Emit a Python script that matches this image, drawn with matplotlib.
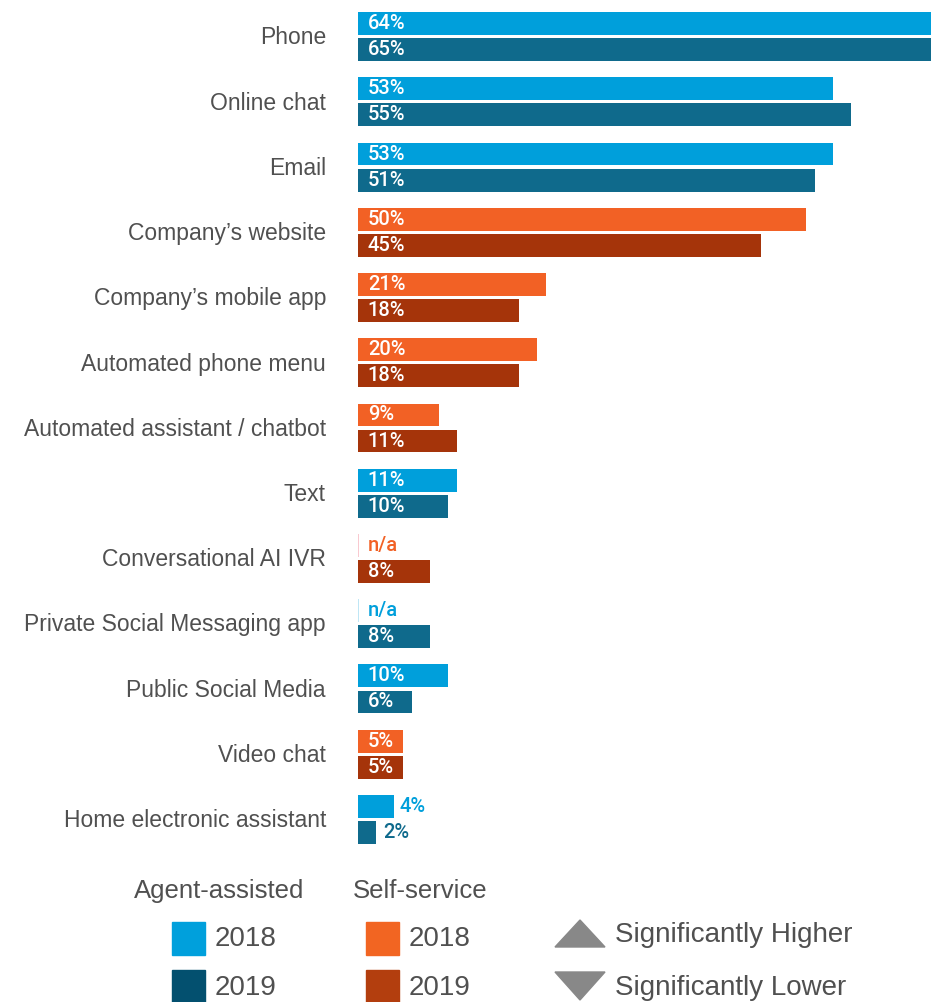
import matplotlib.pyplot as plt
from matplotlib.patches import Rectangle, Polygon

plt.rcParams['font.family'] = ['Liberation Sans', 'DejaVu Sans']

# ---------- data ----------
channels = [
    "Phone", "Online chat", "Email", "Company\u2019s website",
    "Company\u2019s mobile app", "Automated phone menu",
    "Automated assistant / chatbot", "Text", "Conversational AI IVR",
    "Private Social Messaging app", "Public Social Media", "Video chat",
    "Home electronic assistant",
]
# "agent" = agent-assisted, "self" = self-service
channel_type = ["agent", "agent", "agent", "self", "self", "self", "self",
                "agent", "self", "agent", "agent", "self", "agent"]
share_2018 = [64, 53, 53, 50, 21, 20, 9, 11, None, None, 10, 5, 4]
share_2019 = [65, 55, 51, 45, 18, 18, 11, 10, 8, 8, 6, 5, 2]

# ---------- styles ----------
colors = {
    "agent": ("#009FDB", "#0F6A8C"),
    "self": ("#F26125", "#A5340A"),
}
na_line = {"agent": "#BFE6F5", "self": "#F9C9D0"}
legend_colors = {
    "agent": ("#00A0DC", "#03506F"),
    "self": ("#F26522", "#B33E0E"),
}
label_grey = "#505050"
value_font = dict(family=["Roboto", "Liberation Sans"], fontweight="medium",
                  fontsize=14.5, va="center", ha="left")

fig = plt.figure(figsize=(9.31, 10.02), dpi=100)

# bar area: left edge at x=358px, runs off the right side of the figure
ax = fig.add_axes([358 / 931, 1 - 852 / 1002, 573 / 931, 848 / 1002])
ax.set_xlim(0, 573 / 8.96)
ax.set_ylim(len(channels) - 0.5, -0.5)
ax.axis("off")

bar_h = 0.35
off = 0.2
for i, (name, kind, v18, v19) in enumerate(zip(channels, channel_type, share_2018, share_2019)):
    c18, c19 = colors[kind]
    # 2018 bar
    if v18 is None:
        ax.barh(i - off, 0.12, height=bar_h, color=na_line[kind], left=0)
        ax.text(1.1, i - off, "n/a", color=c18, **value_font)
    else:
        ax.barh(i - off, v18, height=bar_h, color=c18)
        if v18 >= 5:
            ax.text(1.1, i - off, f"{v18}%", color="white", **value_font)
        else:
            ax.text(v18 + 0.6, i - off, f"{v18}%", color=c18, **value_font)
    # 2019 bar
    ax.barh(i + off, v19, height=bar_h, color=c19)
    if v19 >= 5:
        ax.text(1.1, i + off, f"{v19}%", color="white", **value_font)
    else:
        ax.text(v19 + 0.8, i + off, f"{v19}%", color=c19, **value_font)
    # category label to the left of the bars
    ax.text(-32 / 8.96, i + 0.02, name, color=label_grey, fontsize=16.5,
            va="center", ha="right", clip_on=False)

# ---------- legend (pixel coordinates) ----------
lg = fig.add_axes([0, 0, 1, 142 / 1002])
lg.set_xlim(0, 931)
lg.set_ylim(1002, 860)
lg.axis("off")

lg.text(134, 891, "Agent-assisted", fontsize=18.5, color=label_grey, va="center")
lg.text(353, 891, "Self-service", fontsize=18.5, color=label_grey, va="center")

for kind, x0 in [("agent", 172), ("self", 366)]:
    c18, c19 = legend_colors[kind]
    lg.add_patch(Rectangle((x0, 922), 33, 33, color=c18))
    lg.add_patch(Rectangle((x0, 970), 33, 33, color=c19))
    lg.text(x0 + 43, 939, "2018", fontsize=20, color=label_grey, va="center")
    lg.text(x0 + 43, 988, "2019", fontsize=20, color=label_grey, va="center")

lg.add_patch(Polygon([(555, 947), (605, 947), (580, 920)], color="#888888"))
lg.add_patch(Polygon([(555, 972), (605, 972), (580, 1000)], color="#888888"))
lg.text(615, 935, "Significantly Higher", fontsize=20, color=label_grey, va="center")
lg.text(615, 988, "Significantly Lower", fontsize=20, color=label_grey, va="center")

fig.savefig("out.png", dpi=100)
